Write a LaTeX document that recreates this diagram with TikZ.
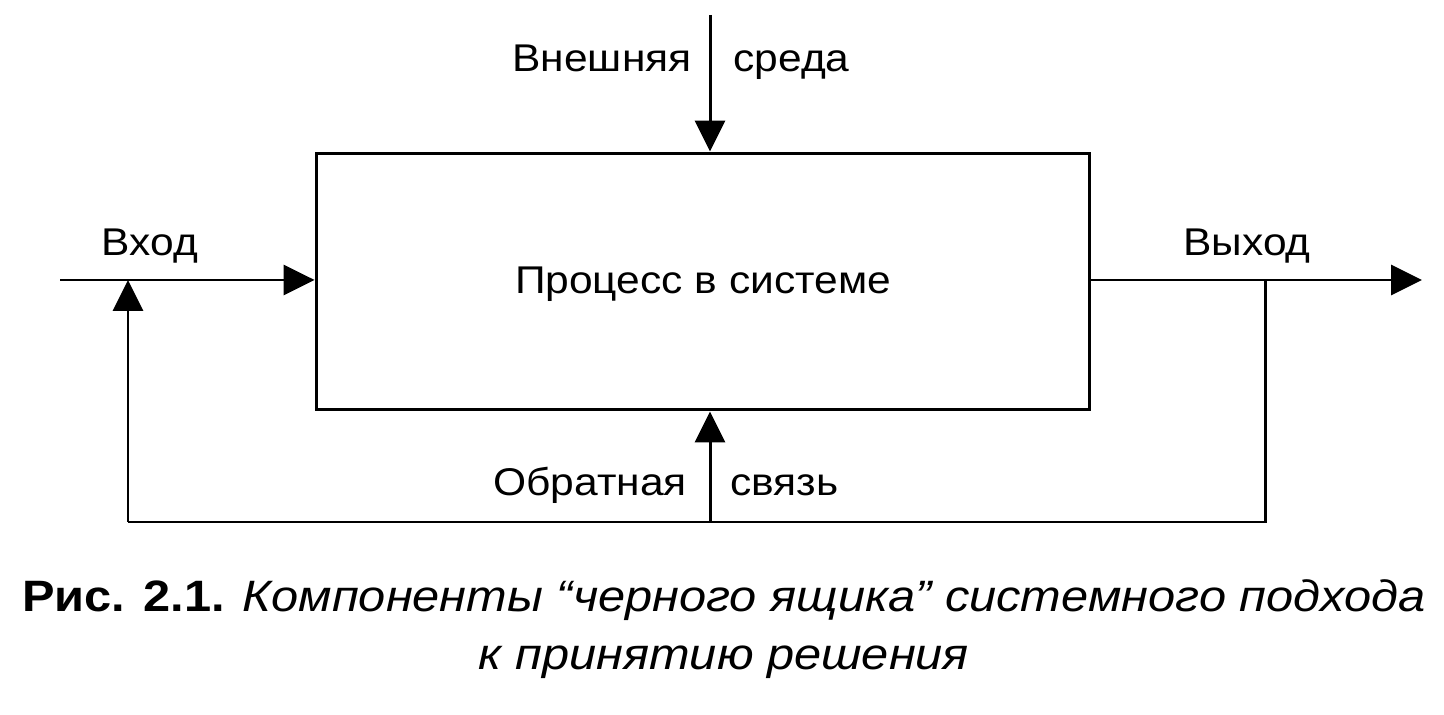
\documentclass[tikz,border=0pt]{standalone}
\usepackage{fontspec}
\setmainfont{Liberation Sans}[FakeStretch=1.1]
\newfontfamily\capfont{Liberation Sans}[FakeStretch=1.11]
\usetikzlibrary{positioning,arrows.meta}

\begin{document}
\begin{tikzpicture}[x=0.02cm, y=-0.02cm,
  txt/.style={inner sep=0pt, font=\fontsize{22}{26}\selectfont},
  captxt/.style={inner sep=0pt, font=\capfont\fontsize{25}{30}\selectfont},
  flow/.style={line width=1.7pt, -{Triangle[length=0.62cm, width=0.6cm]}},
  wire/.style={line width=1.7pt}]
\useasboundingbox (0,0) rectangle (1444,715);
% Black box
\node[draw, rectangle, line width=1.7pt, minimum width=15.48cm, minimum height=5.14cm] (proc) at (703,281.5) {};
\node[txt, anchor=base] (proctxt) at (703,294) {Процесс в системе};

% Connector points
\coordinate (envtop) at (710,15);
\coordinate (in) at (60,280);
\coordinate (out) at (1422,280);
\coordinate (tap) at (1265,280);
\coordinate (fbR) at (1265,522);
\coordinate (fbM) at (710,522);
\coordinate (fbL) at (128,522);
\coordinate (join) at (128,280);

% Arrows
\draw[flow] (envtop) -- (envtop |- proc.north);
\draw[flow] (in) -- (proc.west |- in);
\draw[flow] (proc.east |- out) -- (out);
\draw[wire] (tap) -- (fbR) -- (fbM) -- (fbL);
\draw[flow] (fbL) -- (join);
\draw[flow] (fbM) -- (fbM |- proc.south);

% Labels
\node[txt, anchor=base east] (envL) at (692,72) {Внешняя};
\node[txt, anchor=base west] (envR) at (733,72) {среда};
\node[txt, anchor=base] (inlbl) at (150,256) {Вход};
\node[txt, anchor=base] (outlbl) at (1247,256) {Выход};
\node[txt, anchor=base east] (fbLlbl) at (687,496) {Обратная};
\node[txt, anchor=base west] (fbRlbl) at (730,496) {связь};

% Caption
\node[captxt, anchor=base] (cap1) at (724,612) {\textbf{Рис. 2.1.} \textit{Компоненты “черного ящика” системного подхода}};
\node[captxt, anchor=base] (cap2) at (724,670) {\textit{к принятию решения}};
\end{tikzpicture}
\end{document}
